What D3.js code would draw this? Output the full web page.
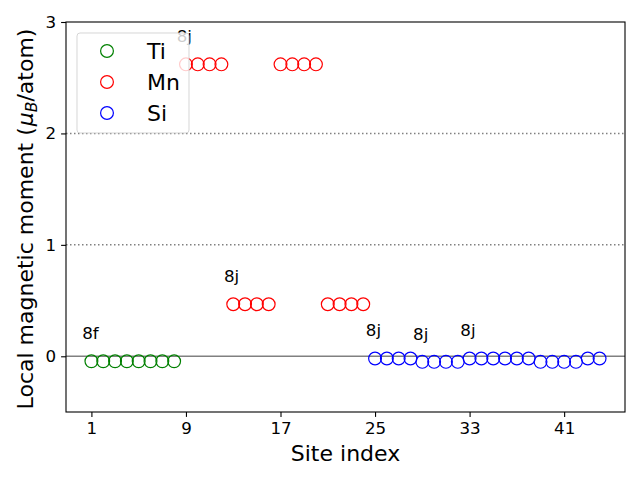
<!DOCTYPE html>
<html>
<head>
<meta charset="utf-8">
<script src="https://cdn.jsdelivr.net/npm/d3@7"></script>
<style>
  body { margin: 0; background: #fff; }
  svg { font-family: "DejaVu Sans", sans-serif; }
</style>
</head>
<body>
<div id="chart"></div>
<script>
"use strict";

// site index per element and local moments
var tiSites = [1, 2, 3, 4, 5, 6, 7, 8];
var tiMoments = [-0.045, -0.045, -0.045, -0.045, -0.045, -0.045, -0.045, -0.045];

var mnSites = [9, 10, 11, 12, 13, 14, 15, 16, 17, 18, 19, 20, 21, 22, 23, 24];
var mnMoments = [2.62, 2.62, 2.62, 2.62, 0.467, 0.467, 0.467, 0.467,
                 2.62, 2.62, 2.62, 2.62, 0.467, 0.467, 0.467, 0.467];

var siSites = [25, 26, 27, 28, 29, 30, 31, 32, 33, 34, 35, 36, 37, 38, 39, 40, 41, 42, 43, 44];
var siMoments = [-0.02, -0.02, -0.02, -0.02, -0.05, -0.05, -0.05, -0.05,
                 -0.02, -0.02, -0.02, -0.02, -0.02, -0.02, -0.05, -0.05, -0.05, -0.05,
                 -0.02, -0.02];

var elements = ["Ti", "Mn", "Si"];
var colors = ["green", "red", "blue"];

// Wyckoff labels: site where each label sits
var wyckoffSites = [1, 9, 13, 25, 29, 33];
var wyckoffLabels = ["8f", "8j", "8j", "8j", "8j", "8j"];

var xTicks = [1, 9, 17, 25, 33, 41];
var yTicks = [0, 1, 2, 3];
var dottedLevels = [1, 2];


function buildSeries() {
  var sites = [tiSites, mnSites, siSites];
  var moments = [tiMoments, mnMoments, siMoments];
  return elements.map(function(el, i) {
    return {
      name: el,
      color: colors[i],
      points: sites[i].map(function(s, j) { return {x: s, y: moments[i][j]}; })
    };
  });
}


function momentAt(site) {
  var all = tiSites.concat(mnSites, siSites);
  var vals = tiMoments.concat(mnMoments, siMoments);
  return vals[all.indexOf(site)];
}


var width = 640, height = 480;
var chart = {left: 66, right: 625, top: 22, bottom: 412, r: 6.4};

var svg = d3.select("#chart").append("svg")
  .attr("width", width)
  .attr("height", height);

var x = d3.scaleLinear().domain([-1.15, 46.15]).range([chart.left, chart.right]);
var y = d3.scaleLinear().domain([-0.5, 3]).range([chart.bottom, chart.top]);

// reference lines
svg.selectAll(".dotted")
  .data(dottedLevels)
  .enter()
    .append("line")
      .attr("x1", chart.left)
      .attr("x2", chart.right)
      .attr("y1", function(d) { return y(d); })
      .attr("y2", function(d) { return y(d); })
      .attr("stroke", "gray")
      .attr("stroke-width", 1.5)
      .attr("stroke-dasharray", "1.5,2.5");

svg.append("line")
  .attr("x1", chart.left)
  .attr("x2", chart.right)
  .attr("y1", y(0))
  .attr("y2", y(0))
  .attr("stroke", "gray")
  .attr("stroke-width", 1.5);

// markers
var series = buildSeries();
series.forEach(function(s) {
  svg.selectAll(".pt-" + s.name)
    .data(s.points)
    .enter()
      .append("circle")
        .attr("cx", function(d) { return x(d.x); })
        .attr("cy", function(d) { return y(d.y); })
        .attr("r", chart.r)
        .attr("fill", "none")
        .attr("stroke", s.color)
        .attr("stroke-width", 1.2);
});

// Wyckoff annotations
svg.selectAll(".wyck")
  .data(wyckoffSites)
  .enter()
    .append("text")
      .attr("x", function(d) { return x(d - 0.78); })
      .attr("y", function(d) { return y(momentAt(d) + 0.2); })
      .attr("font-size", "16.7px")
      .attr("fill", "black")
      .text(function(d, i) { return wyckoffLabels[i]; });

// axes
var xAxis = d3.axisBottom(x).tickValues(xTicks).tickSize(4.9).tickPadding(4.9);
var yAxis = d3.axisLeft(y).tickValues(yTicks).tickFormat(d3.format("d")).tickSize(4.9).tickPadding(4.9);

var gx = svg.append("g")
  .attr("transform", "translate(0," + chart.bottom + ")")
  .call(xAxis);
var gy = svg.append("g")
  .attr("transform", "translate(" + chart.left + ",0)")
  .call(yAxis);

[gx, gy].forEach(function(g) {
  g.select(".domain").remove();
  g.selectAll("text").attr("font-size", "16.7px").attr("font-family", "DejaVu Sans").attr("fill", "black");
  g.selectAll("line").attr("stroke", "black").attr("stroke-width", 1.1);
});

svg.append("rect")
  .attr("x", chart.left)
  .attr("y", chart.top)
  .attr("width", chart.right - chart.left)
  .attr("height", chart.bottom - chart.top)
  .attr("fill", "none")
  .attr("stroke", "black")
  .attr("stroke-width", 1.1);

// axis labels
svg.append("text")
  .attr("x", (chart.left + chart.right) / 2)
  .attr("y", 461)
  .attr("text-anchor", "middle")
  .attr("font-size", "22px")
  .text("Site index");

var yl = svg.append("text")
  .attr("transform", "translate(33," + ((chart.top + chart.bottom) / 2 + 2) + ") rotate(-90)")
  .attr("text-anchor", "middle")
  .attr("font-size", "22px");
yl.append("tspan").text("Local magnetic moment (");
yl.append("tspan").attr("font-style", "italic").attr("dx", 1).text("μ");
yl.append("tspan").attr("font-style", "italic").attr("font-size", "15.5px").attr("dy", 4).text("B");
yl.append("tspan").attr("dy", -4).text("/atom)");

// legend
var legend = svg.append("g");
legend.append("rect")
  .attr("x", 77)
  .attr("y", 33)
  .attr("width", 112)
  .attr("height", 100)
  .attr("rx", 3)
  .attr("fill", "white")
  .attr("fill-opacity", 0.8)
  .attr("stroke", "#cccccc")
  .attr("stroke-opacity", 0.8)
  .attr("stroke-width", 1);

var items = legend.selectAll(".item")
  .data(series)
  .enter()
    .append("g")
      .attr("transform", function(d, i) { return "translate(0," + (51 + i * 31) + ")"; });

items.append("circle")
  .attr("cx", 107)
  .attr("cy", 0)
  .attr("r", chart.r)
  .attr("fill", "none")
  .attr("stroke", function(d) { return d.color; })
  .attr("stroke-width", 1.2);

items.append("text")
  .attr("x", 147)
  .attr("y", 8)
  .attr("font-size", "22px")
  .text(function(d) { return d.name; });
</script>
</body>
</html>
